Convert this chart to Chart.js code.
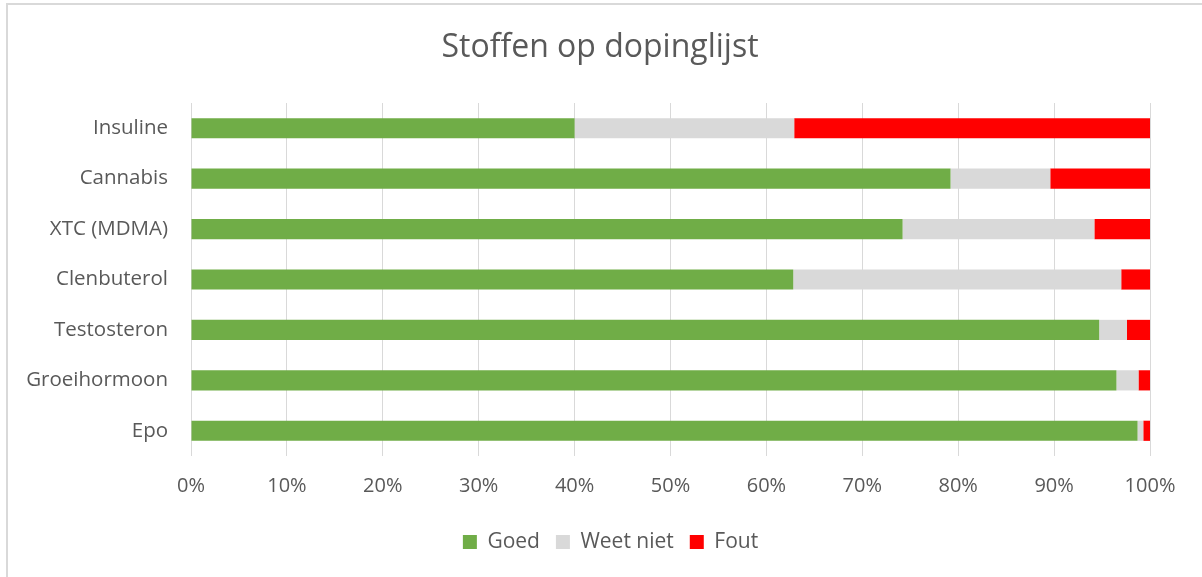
<!DOCTYPE html>
<html>
<head>
<meta charset="utf-8">
<script src="https://cdn.jsdelivr.net/npm/chart.js@4"></script>
<style>
  html, body { margin: 0; padding: 0; background: #fff; }
  #wrap { position: relative; width: 1202px; height: 577px; overflow: hidden; }
  #frame { position: absolute; left: 6px; top: 3px; width: 1300px; height: 700px;
           border-left: 2px solid #d9d9d9; border-top: 2px solid #d9d9d9; }
  canvas { position: absolute; left: 0; top: 0; }
</style>
</head>
<body>
<div id="wrap">
  <div id="frame"></div>
  <canvas id="chart" width="1202" height="577"></canvas>
</div>
<script>
// ----------------------
// Data
// ----------------------
const categories = ["Insuline", "Cannabis", "XTC (MDMA)", "Clenbuterol", "Testosteron", "Groeihormoon", "Epo"];
const goed     = [40.0, 79.2, 74.2, 62.8, 94.7, 96.5, 98.7];
const weetNiet = [22.9, 10.4, 20.0, 34.2,  2.9,  2.3,  0.6];
const fout     = [37.1, 10.4,  5.8,  3.0,  2.4,  1.2,  0.7];
const xTicks   = [0, 10, 20, 30, 40, 50, 60, 70, 80, 90, 100];

const textColor = "#595959";
const fontFamily = "'Open Sans', sans-serif";

// title and legend are centred a bit right of the canvas middle in the original
const recenter = {
  id: "recenter",
  afterLayout(chart) {
    if (chart.titleBlock) chart.titleBlock.left = 50;
    if (chart.legend) chart.legend.left = 71;
  }
};

// ----------------------
// Chart
// ----------------------
const ctx = document.getElementById("chart").getContext("2d");
new Chart(ctx, {
  type: "bar",
  data: {
    labels: categories,
    datasets: [
      { label: "Goed", data: goed, backgroundColor: "#70ad47" },
      { label: "Weet niet", data: weetNiet, backgroundColor: "#d9d9d9" },
      { label: "Fout", data: fout, backgroundColor: "#ff0000" }
    ]
  },
  plugins: [recenter],
  options: {
    indexAxis: "y",
    responsive: false,
    animation: false,
    barPercentage: 0.4,
    categoryPercentage: 1.0,
    layout: { padding: { left: 0, right: 52, top: 0, bottom: 14.5 } },
    plugins: {
      title: {
        display: true,
        text: "Stoffen op dopinglijst",
        color: textColor,
        font: { family: fontFamily, size: 32, weight: "normal" },
        padding: { top: 28.3, bottom: 36.3 }
      },
      legend: {
        position: "bottom",
        labels: {
          color: textColor,
          font: { family: fontFamily, size: 21 },
          boxWidth: 14,
          boxHeight: 14,
          padding: 16
        }
      },
      tooltip: { enabled: false }
    },
    scales: {
      x: {
        stacked: true,
        min: 0,
        max: 100,
        afterBuildTicks: (scale) => { scale.ticks = xTicks.map(v => ({ value: v })); },
        afterFit: (scale) => { scale.height = 59.5; },
        grid: { color: "#d9d9d9", lineWidth: 1, drawTicks: false },
        border: { display: false },
        ticks: {
          color: textColor,
          font: { family: fontFamily, size: 20 },
          padding: 18,
          callback: (v) => v + "%"
        }
      },
      y: {
        stacked: true,
        afterFit: (scale) => { scale.width = 191; },
        grid: { display: false, drawTicks: false },
        border: { display: false },
        ticks: {
          color: textColor,
          font: { family: fontFamily, size: 20.5 },
          padding: 23
        }
      }
    }
  }
});
</script>
</body>
</html>
